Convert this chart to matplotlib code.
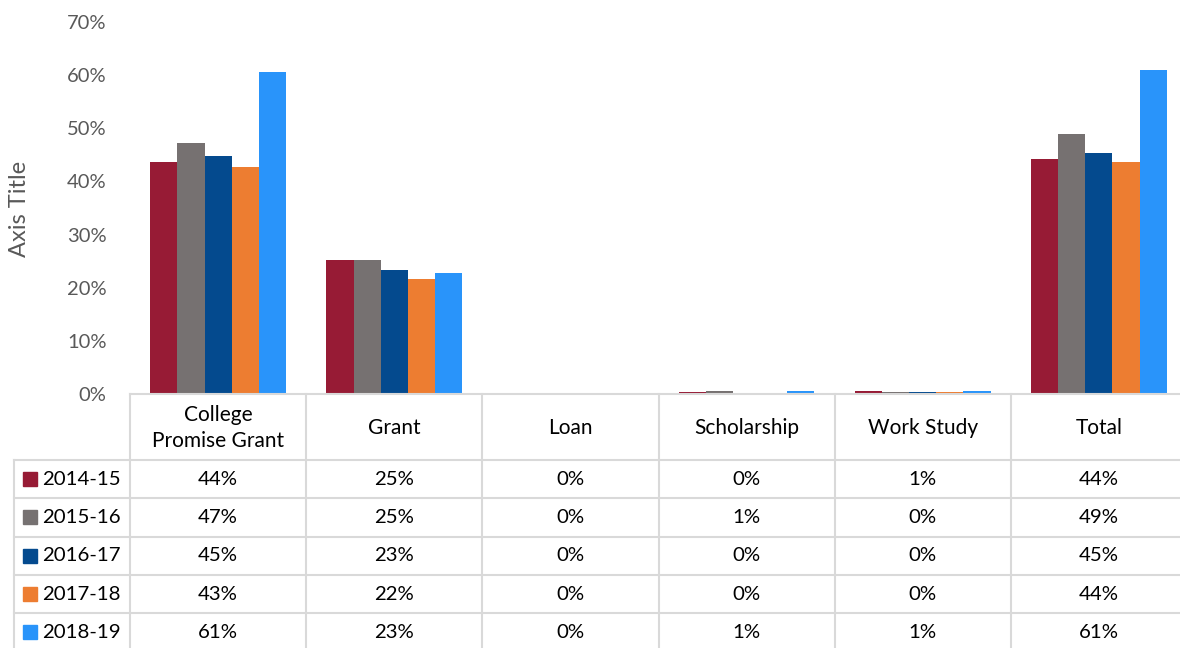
import numpy as np
import matplotlib.pyplot as plt

plt.rcParams['font.family'] = ['Lato', 'DejaVu Sans']

# 数据
categories = ['College\nPromise Grant', 'Grant', 'Loan', 'Scholarship', 'Work Study', 'Total']
years = ['2014-15', '2015-16', '2016-17', '2017-18', '2018-19']
colors = ['#971B35', '#767171', '#044A8E', '#ED7D31', '#2994FA']

v_2014 = [43.6, 25.3, 0.0, 0.3, 0.55, 44.2]
v_2015 = [47.3, 25.3, 0.0, 0.55, 0.3, 49.0]
v_2016 = [44.7, 23.3, 0.0, 0.1, 0.3, 45.3]
v_2017 = [42.7, 21.6, 0.0, 0.05, 0.3, 43.6]
v_2018 = [60.6, 22.8, 0.0, 0.6, 0.55, 61.0]
series = [v_2014, v_2015, v_2016, v_2017, v_2018]

W, H = 1180, 648
fig = plt.figure(figsize=(W / 100, H / 100), dpi=100)

# 主图
x0, x1 = 130, 1187
y_zero, y_top = 394, 22
ax = fig.add_axes([x0 / W, 1 - y_zero / H, (x1 - x0) / W, (y_zero - y_top) / H])
x = np.arange(len(categories))
bw = 0.154
for i, (vals, c) in enumerate(zip(series, colors)):
    ax.bar(x + (i - 2) * bw, np.array(vals) / 100, bw, color=c, label=years[i])
ax.set_xlim(-0.5, len(categories) - 0.5)
ax.set_ylim(0, 0.7)
ax.set_yticks(np.arange(0, 0.71, 0.1))
ax.set_yticklabels([f'{int(round(t * 100))}%' for t in np.arange(0, 0.71, 0.1)])
ax.tick_params(axis='y', length=0, pad=17, labelsize=14.5, labelcolor='#595959')
ax.set_xticks([])
for s in ['top', 'right', 'left']:
    ax.spines[s].set_visible(False)
ax.spines['bottom'].set_color('#D9D9D9')
ax.spines['bottom'].set_linewidth(1.5)
fig.text(19.5 / W, 1 - 209 / H, 'Axis Title', rotation=90, ha='center', va='center',
         fontsize=17, color='#595959')

# 数据表
tab = fig.add_axes([x0 / W, 0, (x1 - x0) / W, (H - y_zero) / H])
tab.set_xlim(-0.5, len(categories) - 0.5)
tab.set_ylim(H, y_zero)
tab.axis('off')
grid_c = '#D9D9D9'
row_h = 38.3
head_b = 460
rows_y = [head_b + i * row_h for i in range(len(years) + 1)]
px = (x1 - x0) / len(categories)
leg_left = -0.5 - (x0 - 14) / px

for yy in rows_y[:-1]:
    tab.plot([leg_left, len(categories) - 0.5 + 0.2], [yy, yy], color=grid_c, lw=1.5, clip_on=False)
for k in range(len(categories) + 1):
    tab.plot([k - 0.5, k - 0.5], [y_zero, H], color=grid_c, lw=1.5, clip_on=False)
tab.plot([leg_left, leg_left], [head_b, H], color=grid_c, lw=1.5, clip_on=False)

for j, cat in enumerate(categories):
    tab.text(j, (y_zero + head_b) / 2 + 1, cat, ha='center', va='center', fontsize=15,
             color='#000000', linespacing=1.35)

for i, (vals, c) in enumerate(zip(series, colors)):
    yc = rows_y[i] + row_h / 2
    sq = (36.7 - 22.7) / px
    sq_x = leg_left + (22.7 - 14) / px
    tab.add_patch(plt.Rectangle((sq_x, yc - 7), sq, 14, color=c, clip_on=False))
    tab.text(leg_left + (42 - 14) / px, yc, years[i], ha='left', va='center',
             fontsize=14.7, color='#000000')
    for j, v in enumerate(vals):
        tab.text(j, yc, f'{v:.0f}%', ha='center', va='center', fontsize=14.7, color='#000000')

plt.savefig('out.png', dpi=100)
